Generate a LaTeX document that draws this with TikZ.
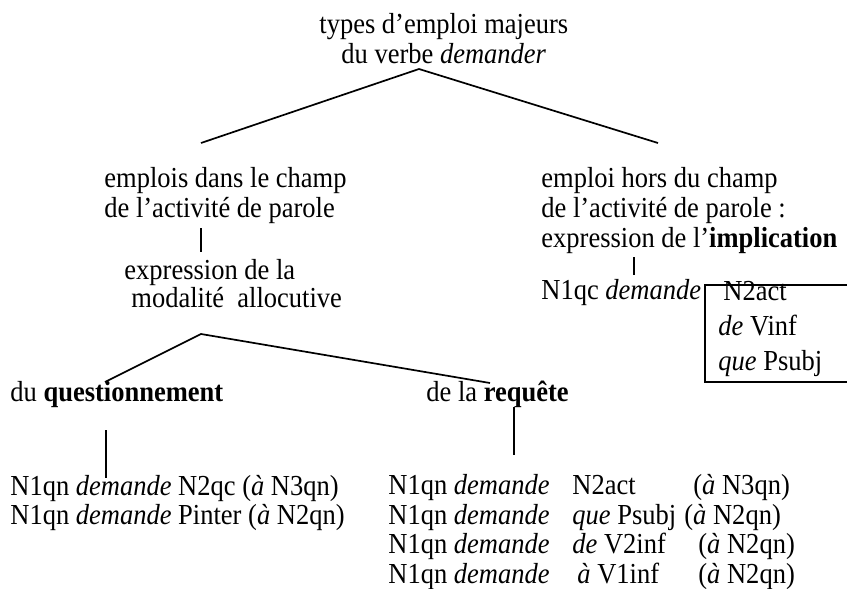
\documentclass[tikz,border=0pt]{standalone}
\usepackage{fontspec}
\usepackage{graphicx}
\setmainfont{Liberation Serif}
\newcommand{\narrowtxt}[1]{\scalebox{0.914}[1]{#1}}
\begin{document}
\begin{tikzpicture}[x=0.5pt,y=-0.5pt,
  txt/.style={anchor=base west, inner sep=0pt, font=\fontsize{14.5pt}{16pt}\selectfont},
  edge/.style={line width=0.85pt, line cap=butt},
  boxline/.style={line width=0.7pt}]
\useasboundingbox (0,0) rectangle (847,589);
% top
\node[txt] (t1) at (319,33) {\narrowtxt{types d’emploi majeurs}};
\node[txt] (t2) at (341,63) {\narrowtxt{du verbe \textit{demander}}};
% left branch
\node[txt] (a1) at (104,187) {\narrowtxt{emplois dans le champ}};
\node[txt] (a2) at (104,217) {\narrowtxt{de l’activité de parole}};
\node[txt] (b1) at (124,279) {\narrowtxt{expression de la}};
\node[txt] (b2) at (131,307) {\narrowtxt{modalité\ \ allocutive}};
% right branch
\node[txt] (c1) at (541,187) {\narrowtxt{emploi hors du champ}};
\node[txt] (c2) at (541,217) {\narrowtxt{de l’activité de parole :}};
\node[txt] (c3) at (541,247) {\narrowtxt{expression de l’\textbf{implication}}};
\node[txt] (d1) at (541,299) {\narrowtxt{N1qc \textit{demande}}};
\draw[boxline] (705,285) rectangle (870,382);
\node[txt] (e1) at (723,300) {\narrowtxt{N2act}};
\node[txt] (e2) at (718,335) {\narrowtxt{\textit{de} Vinf}};
\node[txt] (e3) at (718,370) {\narrowtxt{\textit{que} Psubj}};
% level 3
\node[txt] (q) at (10,401) {\narrowtxt{du \textbf{questionnement}}};
\node[txt] (r) at (426,401) {\narrowtxt{de la \textbf{requête}}};
% left rows
\node[txt] (q1) at (10,495) {\narrowtxt{N1qn \textit{demande} N2qc (\textit{à} N3qn)}};
\node[txt] (q2) at (10,524) {\narrowtxt{N1qn \textit{demande} Pinter (\textit{à} N2qn)}};
% right rows
\node[txt] (r1) at (388,494) {\narrowtxt{N1qn \textit{demande}}};
\node[txt] (r1b) at (572,494) {\narrowtxt{N2act}};
\node[txt] (r1c) at (693,494) {\narrowtxt{(\textit{à} N3qn)}};
\node[txt] (r2) at (388,524) {\narrowtxt{N1qn \textit{demande}}};
\node[txt] (r2b) at (572,524) {\narrowtxt{\textit{que} Psubj}};
\node[txt] (r2c) at (684,524) {\narrowtxt{(\textit{à} N2qn)}};
\node[txt] (r3) at (388,553) {\narrowtxt{N1qn \textit{demande}}};
\node[txt] (r3b) at (572,553) {\narrowtxt{\textit{de} V2inf}};
\node[txt] (r3c) at (698,553) {\narrowtxt{(\textit{à} N2qn)}};
\node[txt] (r4) at (388,583) {\narrowtxt{N1qn \textit{demande}}};
\node[txt] (r4b) at (577,583) {\narrowtxt{\textit{à} V1inf}};
\node[txt] (r4c) at (698,583) {\narrowtxt{(\textit{à} N2qn)}};
% connector end points
\coordinate (apex1) at (419,69);
\coordinate (endA) at (201,143);
\coordinate (endC) at (658,143);
\coordinate (barAt) at (201,228);
\coordinate (barAb) at (201,252);
\coordinate (barCt) at (634,257);
\coordinate (barCb) at (634,275);
\coordinate (apex2) at (201,334);
\coordinate (endQ) at (105,382);
\coordinate (endR) at (490,383);
\coordinate (barQt) at (106,430);
\coordinate (barQb) at (106,478);
\coordinate (barRt) at (514,407);
\coordinate (barRb) at (514,455);
% connectors
\draw[edge] (endA) -- (apex1) -- (endC);
\draw[edge] (barAt) -- (barAb);
\draw[edge] (barCt) -- (barCb);
\draw[edge] (endQ) -- (apex2) -- (endR);
\draw[edge] (barQt) -- (barQb);
\draw[edge] (barRt) -- (barRb);
\end{tikzpicture}
\end{document}
